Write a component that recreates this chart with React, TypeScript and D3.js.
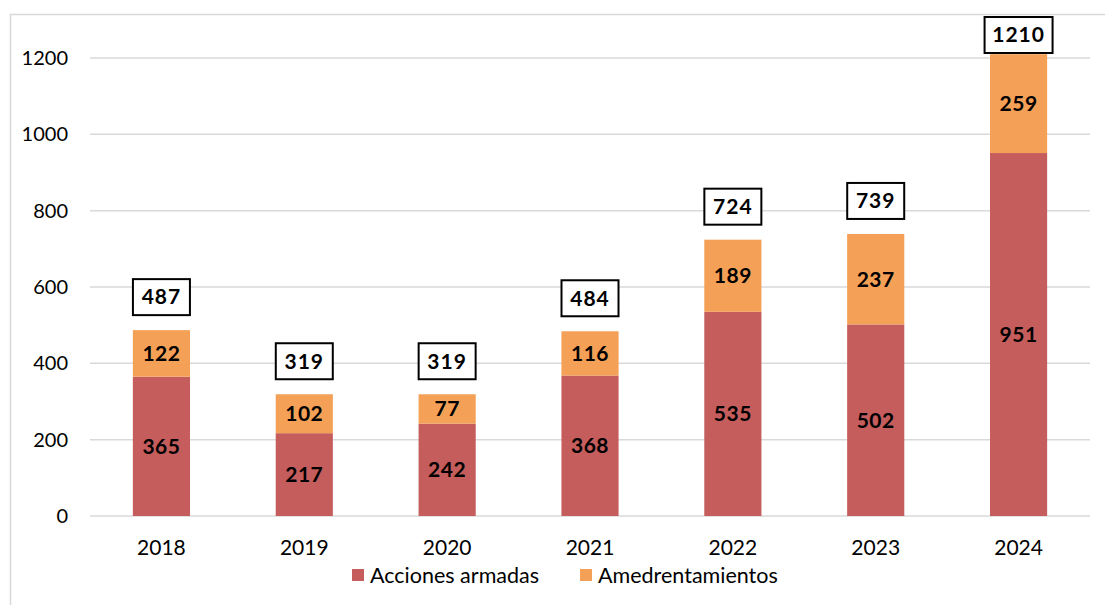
import React, { useEffect, useRef } from 'react';
import * as d3 from 'd3';

const years = ['2018', '2019', '2020', '2021', '2022', '2023', '2024'];
const acciones = [365, 217, 242, 368, 535, 502, 951];
const amedrentamientos = [122, 102, 77, 116, 189, 237, 259];
const totals = [487, 319, 319, 484, 724, 739, 1210];
const yTicks = [0, 200, 400, 600, 800, 1000, 1200];
const seriesNames = ['Acciones armadas', 'Amedrentamientos'];
const colors = ['#C55D5C', '#F5A057'];

const FONT = 'Lato, "Open Sans", sans-serif';

const App = () => {
  const svgRef = useRef<SVGSVGElement>(null);

  useEffect(() => {
    const W = 1105;
    const H = 605;
    const svg = d3.select(svgRef.current);
    svg.selectAll('*').remove();

    // outer frame
    svg.append('rect')
      .attr('x', 10.5).attr('y', 14.5)
      .attr('width', W + 20).attr('height', H + 20)
      .attr('fill', 'none').attr('stroke', '#d9d9d9').attr('stroke-width', 1.5);

    const left = 90;
    const right = 1090;
    const top = 58;
    const bottom = 516;

    const x = d3.scaleBand().domain(years).range([left, right]).paddingInner(0.6).paddingOuter(0.3);
    const y = d3.scaleLinear().domain([0, 1200]).range([bottom, top]);

    // gridlines
    svg.append('g')
      .selectAll('line')
      .data(yTicks)
      .enter()
      .append('line')
      .attr('x1', left).attr('x2', right)
      .attr('y1', d => y(d)).attr('y2', d => y(d))
      .attr('stroke', '#d9d9d9').attr('stroke-width', 1.5);

    // y tick labels
    svg.append('g')
      .selectAll('text')
      .data(yTicks)
      .enter()
      .append('text')
      .attr('x', 68).attr('y', d => y(d))
      .attr('dy', '0.35em')
      .attr('text-anchor', 'end')
      .attr('font-family', FONT).attr('font-size', 20).attr('fill', '#000')
      .text(d => d);

    const stackData = years.map((yr, i) => ({ year: yr, a: acciones[i], b: amedrentamientos[i] }));
    const stack = d3.stack<any>().keys(['a', 'b'])(stackData);

    stack.forEach((layer, li) => {
      const g = svg.append('g');
      g.selectAll('rect')
        .data(layer)
        .enter()
        .append('rect')
        .attr('x', d => x(d.data.year)!)
        .attr('width', x.bandwidth())
        .attr('y', d => y(d[1]))
        .attr('height', d => y(d[0]) - y(d[1]))
        .attr('fill', colors[li]);
      g.selectAll('text')
        .data(layer)
        .enter()
        .append('text')
        .attr('x', d => x(d.data.year)! + x.bandwidth() / 2)
        .attr('y', d => (y(d[0]) + y(d[1])) / 2)
        .attr('dy', '0.35em')
        .attr('text-anchor', 'middle')
        .attr('font-family', FONT).attr('font-weight', 'bold').attr('font-size', 21)
        .attr('letter-spacing', 0.5)
        .attr('fill', '#000')
        .text(d => d[1] - d[0]);
    });

    // total labels with boxes
    const tg = svg.append('g');
    years.forEach((yr, i) => {
      const cx = x(yr)! + x.bandwidth() / 2;
      const bh = 36;
      const bw = totals[i] >= 1000 ? 68 : 57;
      const by = Math.max(17, y(totals[i]) - 15 - bh);
      tg.append('rect')
        .attr('x', cx - bw / 2).attr('y', by)
        .attr('width', bw).attr('height', bh)
        .attr('fill', '#fff').attr('stroke', '#000').attr('stroke-width', 2);
      tg.append('text')
        .attr('x', cx).attr('y', by + bh / 2)
        .attr('dy', '0.35em')
        .attr('text-anchor', 'middle')
        .attr('font-family', FONT).attr('font-weight', 'bold').attr('font-size', 21)
        .attr('letter-spacing', 1)
        .text(totals[i]);
    });

    // x labels
    svg.append('g')
      .selectAll('text')
      .data(years)
      .enter()
      .append('text')
      .attr('x', d => x(d)! + x.bandwidth() / 2)
      .attr('y', 548)
      .attr('dy', '0.35em')
      .attr('text-anchor', 'middle')
      .attr('font-family', FONT).attr('font-size', 21).attr('fill', '#000')
      .text(d => d);

    // legend
    const legendItems = [
      { name: seriesNames[0], color: colors[0], x: 352 },
      { name: seriesNames[1], color: colors[1], x: 580 },
    ];
    const lg = svg.append('g');
    legendItems.forEach(it => {
      lg.append('rect')
        .attr('x', it.x).attr('y', 569)
        .attr('width', 12).attr('height', 12)
        .attr('fill', it.color);
      lg.append('text')
        .attr('x', it.x + 18).attr('y', 575)
        .attr('dy', '0.35em')
        .attr('font-family', FONT).attr('font-size', 21.5).attr('fill', '#000')
        .text(it.name);
    });
  }, []);

  return (
    <svg
      ref={svgRef}
      width={1105}
      height={605}
      style={{ position: 'absolute', left: 0, top: 0, background: '#fff' }}
    />
  );
};

export default App;
